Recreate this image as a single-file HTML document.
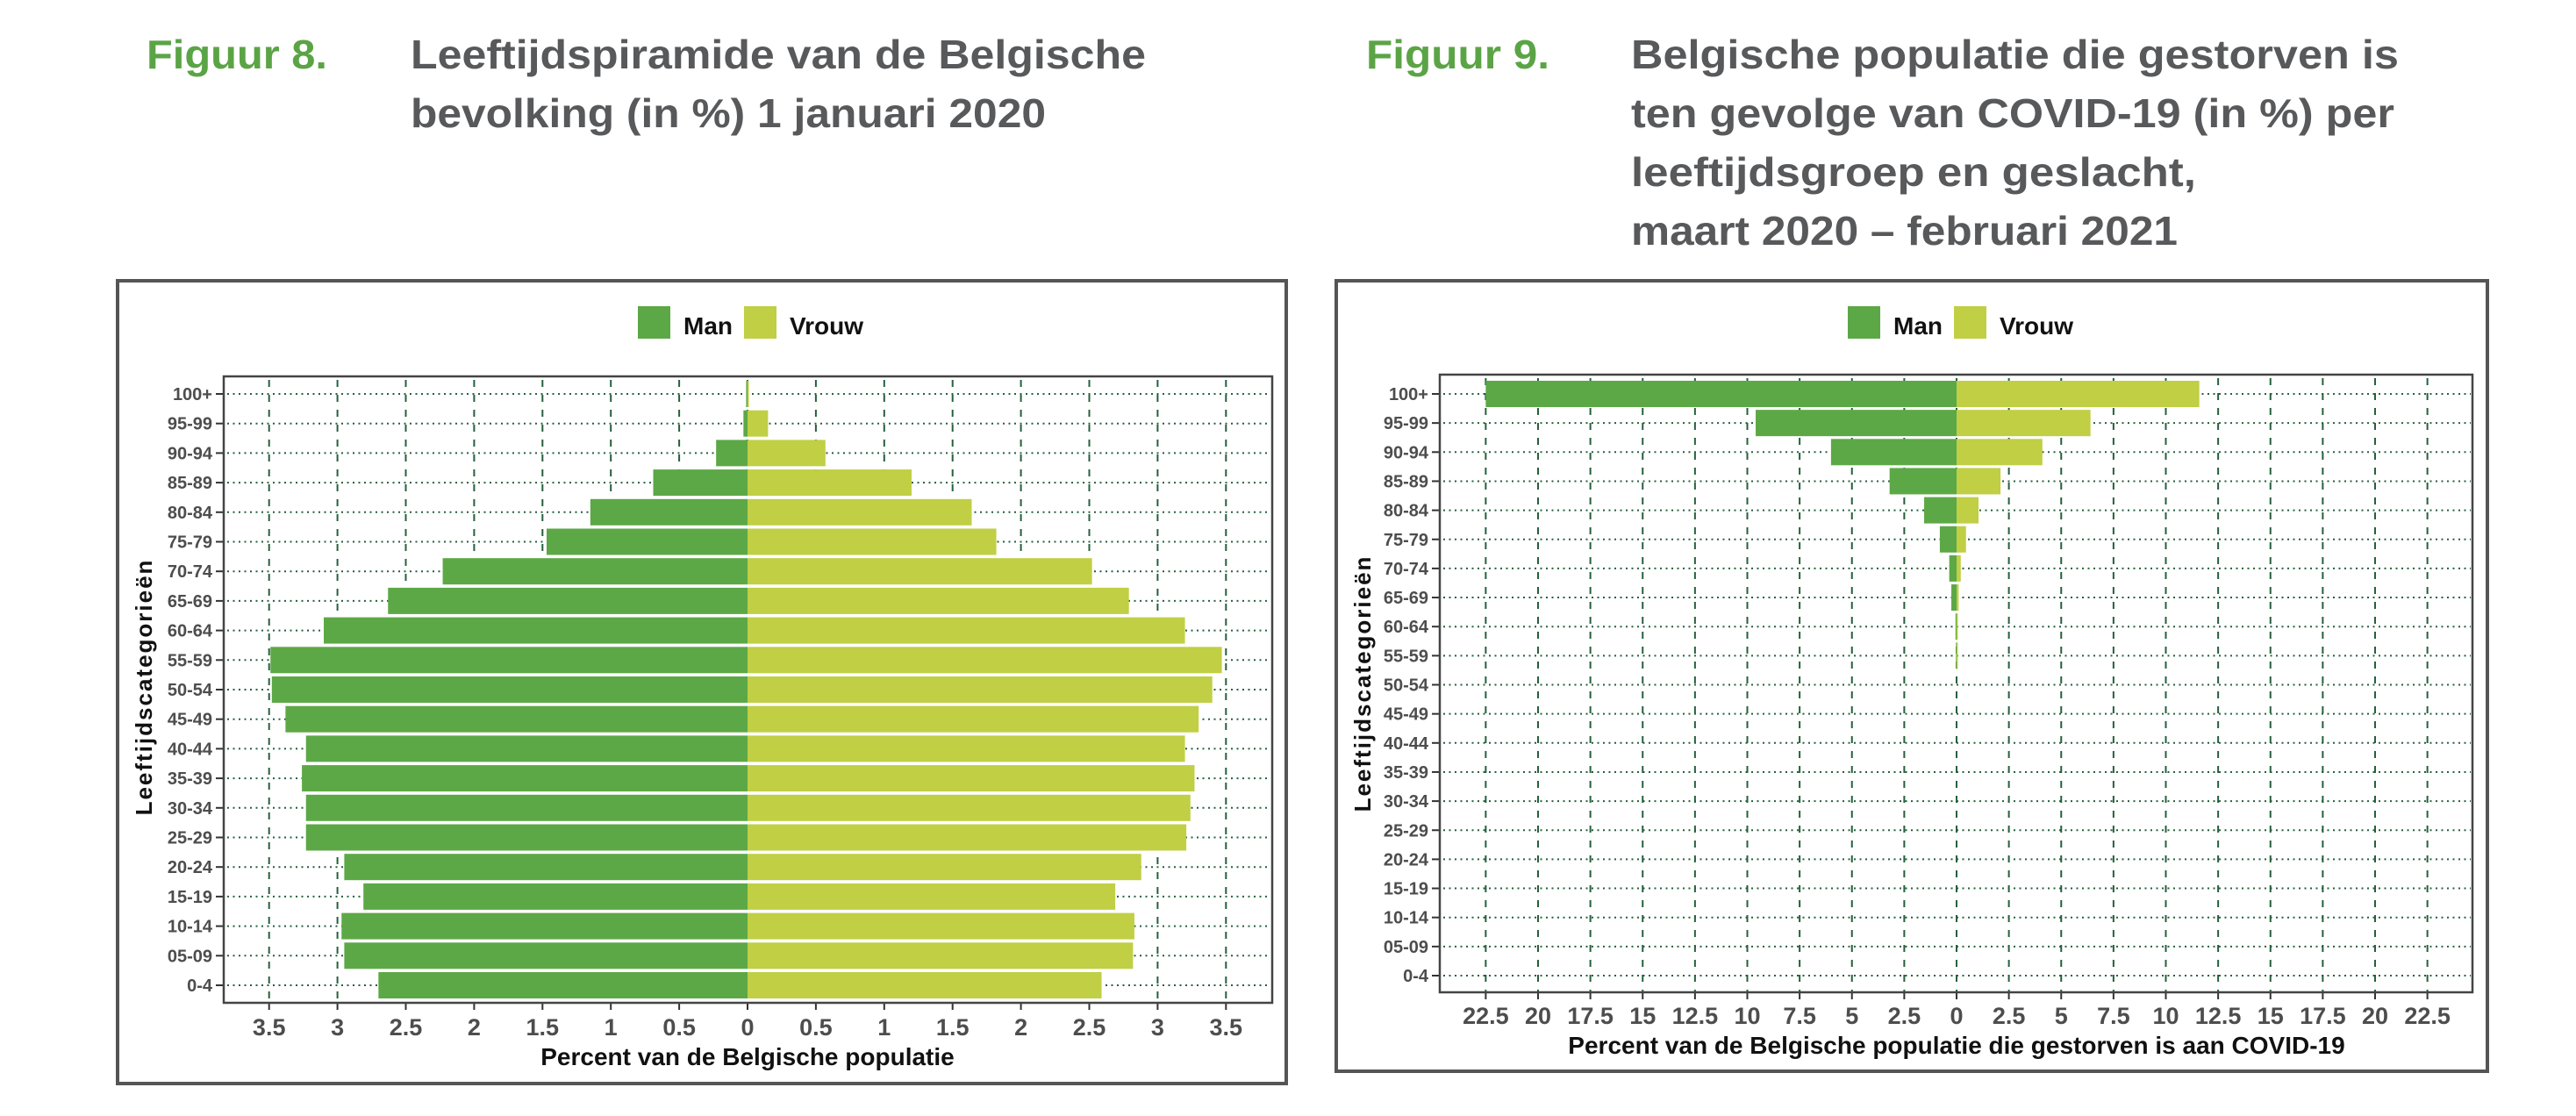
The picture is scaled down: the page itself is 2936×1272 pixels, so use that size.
<!DOCTYPE html>
<html><head><meta charset="utf-8">
<style>
html,body{margin:0;padding:0;background:#fff;}
svg{display:block;font-family:"Liberation Sans",Arial,sans-serif;}
</style></head>
<body>
<svg id="s" width="2936" height="1272" viewBox="0 0 2936 1272" xmlns="http://www.w3.org/2000/svg">
<rect width="2936" height="1272" fill="#fff"/>
<g font-weight="bold" font-size="46">
<text x="167" y="78" fill="#5ba446" textLength="206" lengthAdjust="spacingAndGlyphs">Figuur 8.</text>
<text x="468" y="78" fill="#58595b" textLength="838" lengthAdjust="spacingAndGlyphs">Leeftijdspiramide van de Belgische</text>
<text x="468" y="145" fill="#58595b" textLength="724" lengthAdjust="spacingAndGlyphs">bevolking (in %) 1 januari 2020</text>
<text x="1557" y="78" fill="#5ba446" textLength="209" lengthAdjust="spacingAndGlyphs">Figuur 9.</text>
<text x="1859" y="78" fill="#58595b" textLength="875" lengthAdjust="spacingAndGlyphs">Belgische populatie die gestorven is</text>
<text x="1859" y="145" fill="#58595b" textLength="870" lengthAdjust="spacingAndGlyphs">ten gevolge van COVID-19  (in %) per</text>
<text x="1859" y="212" fill="#58595b" textLength="644" lengthAdjust="spacingAndGlyphs">leeftijdsgroep en geslacht,</text>
<text x="1859" y="279" fill="#58595b" textLength="623" lengthAdjust="spacingAndGlyphs">maart 2020 – februari 2021</text>
</g>
<g id="g"></g>
</svg>
<script>
var NS="http://www.w3.org/2000/svg",G=document.getElementById("g");
function el(t,a,txt){var e=document.createElementNS(NS,t);for(var k in a)e.setAttribute(k,a[k]);if(txt!=null)e.textContent=txt;G.appendChild(e);return e;}
var labels=["100+","95-99","90-94","85-89","80-84","75-79","70-74","65-69","60-64","55-59","50-54","45-49","40-44","35-39","30-34","25-29","20-24","15-19","10-14","05-09","0-4"];
var MAN="#5ca846",VR="#c0cf44",GR="#25603d";
function chart(o){
  el("rect",{x:o.bx,y:o.by,width:o.bw,height:o.bh,fill:"#fff",stroke:"#555",'stroke-width':4});
  el("rect",{x:o.lx,y:349,width:37,height:37,fill:MAN});
  el("text",{x:o.lx+52,y:381,'font-size':28,'font-weight':'bold',fill:"#111"},"Man");
  el("rect",{x:o.lx+121,y:349,width:37,height:37,fill:VR});
  el("text",{x:o.lx+173,y:381,'font-size':28,'font-weight':'bold',fill:"#111"},"Vrouw");
  for(var t=-o.tmax;t<=o.tmax+1e-9;t+=o.step){
    var x=o.c+t*o.s;
    el("line",{x1:x,y1:o.pt+4,x2:x,y2:o.pb,stroke:GR,'stroke-width':2,'stroke-dasharray':"8,9"});
    el("line",{x1:x,y1:o.pb,x2:x,y2:o.pb+8,stroke:"#333",'stroke-width':2});
    var v=Math.abs(Math.round(t*10)/10);
    el("text",{x:x,y:o.tly,'font-size':27,'font-weight':'bold',fill:"#4d4d4d",'text-anchor':'middle'},String(v));
  }
  for(var i=0;i<21;i++){
    var y=o.r0+i*o.rs;
    el("line",{x1:o.pl+4,y1:y,x2:o.pr-2,y2:y,stroke:GR,'stroke-width':2,'stroke-dasharray':"2,4.5"});
    el("line",{x1:o.pl-9,y1:y,x2:o.pl,y2:y,stroke:"#333",'stroke-width':2});
    el("text",{x:o.pl-13,y:y+7,'font-size':20,'font-weight':'bold',fill:"#4d4d4d",'text-anchor':'end'},labels[i]);
  }
  for(var i=0;i<21;i++){
    var y=o.r0+i*o.rs-15;
    var m=o.man[i]*o.s,w=o.vr[i]*o.s;
    if(m>0)el("rect",{x:o.c-m,y:y,width:Math.max(m,1.5),height:30,fill:MAN});
    if(w>0)el("rect",{x:o.c,y:y,width:Math.max(w,1.5),height:30,fill:VR});
  }
  el("rect",{x:o.pl,y:o.pt,width:o.pr-o.pl,height:o.pb-o.pt,fill:"none",stroke:"#444",'stroke-width':2.5});
  el("text",{x:o.c,y:o.xty,'font-size':28,'font-weight':'bold',fill:"#111",'text-anchor':'middle'},o.xt);
  el("text",{x:0,y:0,'font-size':26,'font-weight':'bold',fill:"#111",'text-anchor':'middle','letter-spacing':2,transform:"translate("+o.ytx+","+o.yty+") rotate(-90)"},"Leeftijdscategorieën");
}
chart({bx:134,by:320,bw:1332,bh:915,lx:727,pl:255,pr:1450,pt:429,pb:1143,c:852,s:155.8,tmax:3.5,step:0.5,
 tly:1180,r0:449,rs:33.7,xty:1214,xt:"Percent van de Belgische populatie",ytx:173,yty:783,
 man:[0.01,0.03,0.23,0.69,1.15,1.47,2.23,2.63,3.10,3.49,3.48,3.38,3.23,3.26,3.23,3.23,2.95,2.81,2.97,2.95,2.70],
 vr:[0.01,0.15,0.57,1.2,1.64,1.82,2.52,2.79,3.2,3.47,3.40,3.30,3.2,3.27,3.24,3.21,2.88,2.69,2.83,2.82,2.59]});
chart({bx:1523,by:320,bw:1312,bh:901,lx:2106,pl:1641,pr:2818,pt:427,pb:1131,c:2230,s:23.85,tmax:22.5,step:2.5,
 tly:1167,r0:449,rs:33.15,xty:1201,xt:"Percent van de Belgische populatie die gestorven is aan COVID-19",ytx:1562,yty:779,
 man:[22.5,9.6,6.0,3.2,1.55,0.8,0.35,0.25,0.05,0.03,0,0,0,0,0,0,0,0,0,0,0],
 vr:[11.6,6.4,4.1,2.1,1.05,0.45,0.2,0.1,0.02,0.01,0,0,0,0,0,0,0,0,0,0,0]});
</script>
</body></html>
